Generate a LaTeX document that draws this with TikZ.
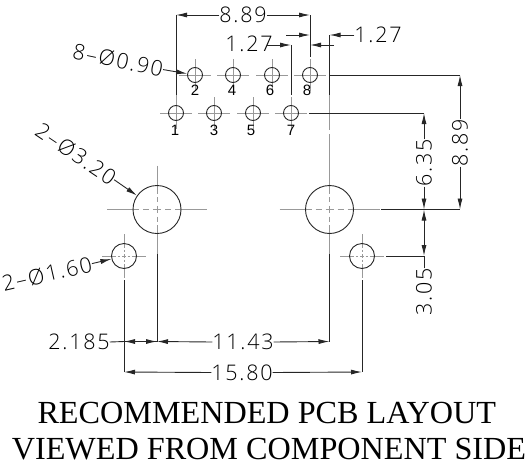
\documentclass[tikz,border=0pt]{standalone}
\usepackage{fontspec}
\setmainfont{Liberation Serif}
\setsansfont{Liberation Sans}
\newfontfamily\dimfont[LetterSpace=8]{Open Sans Light}
\usetikzlibrary{arrows.meta}
\tikzset{
  dimline/.style={draw=black!85,line width=0.9pt},
  dimarrow/.style={dimline,-{Latex[length=11pt,width=5pt]}},
  center/.style={draw=black!40,line width=0.8pt},
  hole/.style={draw=black!85,line width=0.9pt},
  dimtext/.style={inner sep=0pt,font=\dimfont\fontsize{21.5}{21.5}\selectfont},
  pintext/.style={inner sep=0pt,font=\sffamily\fontsize{15}{15}\selectfont},
  title/.style={inner sep=0pt,anchor=base,font=\fontsize{32.2}{32.2}\selectfont},
}
\begin{document}
\begin{tikzpicture}[x=1pt,y=-1pt]
\useasboundingbox (0,0) rectangle (526,463);
% centre marks of the pins
\foreach \n/\x/\y in {p1/176/113,p2/195/75,p3/214/113,p4/233/75,p5/253/113,p6/272/75,p7/291/113,p8/310/75}{
  \draw[center] (\x-16,\y) -- (\x+16,\y) (\x,\y-16) -- (\x,\y+16);
  \node[hole,circle,minimum size=15pt,inner sep=0pt] (\n) at (\x,\y) {};
}
% centre marks of large and small holes
\foreach \n/\x/\y/\a/\b/\c/\d in {L/157/209.5/50/44/23/48,R/329.5/209.5/50/44/23/48,A/124/256/22/22/12.5/25,B/362/256/22/22/12.5/25}{
  \draw[center] (\x-\a,\y) -- (\x-0.36*\a,\y) (\x-0.28*\a,\y) -- (\x-0.16*\a,\y) (\x-0.08*\a,\y) -- (\x+0.08*\a,\y) (\x+0.16*\a,\y) -- (\x+0.28*\a,\y) (\x+0.36*\a,\y) -- (\x+\a,\y);
  \draw[center] (\x,\y-\b) -- (\x,\y-0.36*\b) (\x,\y-0.28*\b) -- (\x,\y-0.16*\b) (\x,\y-0.08*\b) -- (\x,\y+0.08*\b) (\x,\y+0.16*\b) -- (\x,\y+0.28*\b) (\x,\y+0.36*\b) -- (\x,\y+\b);
  \node[hole,circle,minimum size=\d pt,inner sep=0pt] (\n) at (\x,\y) {};
}
\draw[center] (329.5,95) -- (329.5,130) (329.5,134) -- (329.5,166);
\draw[center] (176,95) -- (176,98);
% pin numbers
\foreach \t/\x/\y in {2/195/90,4/232/90,6/270/90,8/307/90,1/175/130,3/214/130,5/251/130,7/291/130}{
  \node[pintext] (n\t) at (\x,\y) {\t};
}
% top dimensions
\node[dimtext] (d889a) at (243,15) {8.89};
\node[dimtext] (d127a) at (249,44) {1.27};
\node[dimtext] (d127b) at (378,35) {1.27};
\coordinate (e1) at (176,15); \coordinate (e1b) at (176,95);
\coordinate (e8) at (310,15); \coordinate (e8b) at (310,57);
\coordinate (e7) at (291,45); \coordinate (e7b) at (291,95);
\coordinate (e9) at (329.5,35); \coordinate (e9b) at (329.5,95);
\draw[dimline] (e1) -- (e1b) (e8) -- (e8b) (e7) -- (e7b) (e9) -- (e9b);
\draw[dimarrow] (d889a.west) -- (e1);
\draw[dimarrow] (d889a.east) -- (e8);
\coordinate (a1) at (286,35); \coordinate (a2) at (310,35);
\draw[dimarrow] (a1) -- (a2);
\coordinate (a3) at (267,45);
\draw[dimarrow] (a3) -- (e7);
\coordinate (a5) at (310,45);
\draw[dimarrow] (334,45) -- (a5);
\draw[dimarrow] (d127b.west) -- (e9);
% right dimensions
\coordinate (r1) at (460,75); \coordinate (r2) at (424,113);
\coordinate (r3) at (460,209.5); \coordinate (r4) at (424,209.5);
\coordinate (r5) at (424,256);
\draw[dimline] (329.5,75) -- (r1);
\draw[dimline] (309,113) -- (r2);
\draw[dimline] (381,209.5) -- (r3);
\draw[dimline] (386,256) -- (r5);
\node[dimtext,rotate=90] (d635) at (424,163) {6.35};
\node[dimtext,rotate=90] (d889b) at (460,143) {8.89};
\node[dimtext,rotate=90] (d305) at (424,292) {3.05};
\draw[dimarrow] (d635.east) -- (r2);
\draw[dimarrow] (d635.west) -- (r4);
\draw[dimarrow] (d889b.east) -- (r1);
\draw[dimarrow] (d889b.west) -- (r3);
\draw[dimarrow] (r5) ++(0,-22) coordinate (r6) -- (r4);
\draw[dimarrow] (r6) -- (r5);
\draw[dimline] (d305.east) -- (r5);
% bottom dimensions
\coordinate (b1) at (124,341.5); \coordinate (b2) at (157,341.5);
\coordinate (b3) at (329.5,341.5);
\coordinate (c1) at (124,372); \coordinate (c2) at (362,372);
\draw[dimline] (124,280) -- (c1) (362,280) -- (c2);
\draw[dimline] (157,254) -- (b2) (329.5,254) -- (b3);
\node[dimtext] (d2185) at (79,342) {2.185};
\node[dimtext] (d1143) at (243,342) {11.43};
\node[dimtext] (d1580) at (242,372.5) {15.80};
\draw[dimline] (d2185.east) -- (b1);
\draw[dimarrow] (b2) -- (b1);
\draw[dimarrow] (b1) -- (b2);
\draw[dimarrow] (d1143.west) -- (b2);
\draw[dimarrow] (d1143.east) -- (b3);
\draw[dimarrow] (d1580.west) -- (c1);
\draw[dimarrow] (d1580.east) -- (c2);
% hole callouts
\node[dimtext,rotate=-12] (l1) at (118,60) {8–Ø0.90};
\node[dimtext,rotate=-34] (l2) at (76,154) {2–Ø3.20};
\node[dimtext,rotate=13] (l3) at (47,274) {2–Ø1.60};
\draw[dimarrow] (l1.east) -- (p2);
\draw[dimarrow] (l2.east) -- (L);
\draw[dimarrow] (l3.east) -- (A);
% title
\node[title] (t1) at (266.8,423.5) {RECOMMENDED PCB LAYOUT};
\node[title] (t2) at (269,459) {VIEWED FROM COMPONENT SIDE};
\end{tikzpicture}
\end{document}
